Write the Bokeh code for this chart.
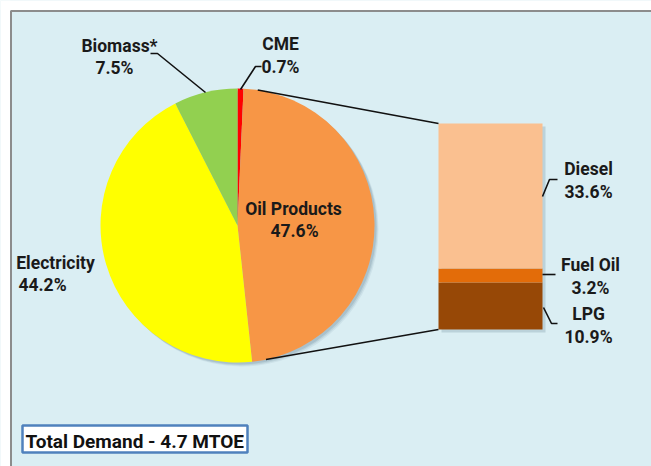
import numpy as np
from bokeh.plotting import figure
from bokeh.models import Range1d, ColumnDataSource
from bokeh.core.properties import value
from bokeh.embed import file_html
from bokeh.resources import INLINE

# ---------------- data ----------------
pie_names = ["CME", "Oil Products", "Electricity", "Biomass*"]   # clockwise from 12 o'clock
pie_values = [0.7, 47.6, 44.2, 7.5]
pie_colors = ["#FF0000", "#F79646", "#FFFF00", "#92D050"]

oil_names = ["LPG", "Fuel Oil", "Diesel"]                      # bottom to top of the bar
oil_values = [10.9, 3.2, 33.6]
oil_colors = ["#974806", "#E36C09", "#FAC090"]

total_label = "Total Demand - 4.7 MTOE"

# ---------------- layout helpers ----------------
W, H = 651, 466
OX, OY = 0, 0          # where the figure lands on the page
def X(ix):  # image x -> data x
    return ix - OX
def Y(iy):  # image y -> data y
    return H + OY - iy

FONT = value("Roboto")
TXT = "#1a1a1a"
BG = "#DAEEF3"
TSHIFT = 6             # correction of rendered text baseline

p = figure(width=W, height=H, x_range=Range1d(0, W), y_range=Range1d(0, H),
           output_backend="svg", toolbar_location=None, min_border=0)
p.axis.visible = False
p.grid.visible = False
p.outline_line_color = None
p.background_fill_color = BG
p.border_fill_color = BG

# white page margin + grey frame (top/left)
p.quad(left=[0], right=[X(10)], bottom=[0], top=[H], fill_color="white", line_color=None)
p.quad(left=[0], right=[W], bottom=[Y(9.5)], top=[H], fill_color="white", line_color=None)
p.line(x=[X(10.5), X(10.5), W], y=[0, Y(10.5), Y(10.5)], line_color="#8c8c8c", line_width=2)

# ---------------- pie ----------------
cx, cy, R = X(237), Y(225), 137
vals = np.array(pie_values, dtype=float)
frac = vals / vals.sum()
cw_end = np.cumsum(frac) * 2 * np.pi
cw_start = cw_end - frac * 2 * np.pi
pie_src = ColumnDataSource(dict(
    start=np.pi / 2 - cw_end, end=np.pi / 2 - cw_start,
    color=pie_colors, name=pie_names))

# soft shadow
for off, a in [(4, 0.10), (3, 0.15), (2, 0.2)]:
    p.circle(x=[cx + off], y=[cy - off], radius=R, fill_color="#5f7f8f",
             fill_alpha=a, line_color=None)
p.wedge(x=cx, y=cy, radius=R, start_angle="start", end_angle="end",
        fill_color="color", line_color=None, source=pie_src)

# ---------------- stacked bar (oil products breakdown) ----------------
bar_bottom_img, bar_top_img = 329, 123
oil = np.array(oil_values, dtype=float)
k = (bar_bottom_img - bar_top_img) / oil.sum()           # px per percent
r_start = -Y(bar_bottom_img) / k
p.extra_y_ranges = {"bar": Range1d(start=r_start, end=r_start + H / k)}
tops = np.cumsum(oil)
bots = tops - oil
bar_x, bar_w = X(490), 104

# bar shadow
p.vbar(x=[bar_x + 3], width=bar_w, bottom=[0 - 3 / k], top=[tops[-1] - 3 / k],
       y_range_name="bar", fill_color="#5f7f8f", fill_alpha=0.25, line_color=None)
bar_src = ColumnDataSource(dict(x=[bar_x] * len(oil), bottom=bots, top=tops,
                                color=oil_colors, name=oil_names))
p.vbar(x="x", width=bar_w, bottom="bottom", top="top", fill_color="color",
       line_color=None, y_range_name="bar", source=bar_src)

# ---------------- connector lines pie -> bar ----------------
bar_left = bar_x - bar_w / 2
bar_top_y = Y(bar_bottom_img) + k * tops[-1]
bar_bot_y = Y(bar_bottom_img)
a_top, a_bot = np.deg2rad(8.5), np.deg2rad(168)
p.segment(x0=[cx + R * np.sin(a_top), cx + R * np.sin(a_bot)],
          y0=[cy + R * np.cos(a_top), cy + R * np.cos(a_bot)],
          x1=[bar_left, bar_left], y1=[bar_top_y, bar_bot_y],
          line_color="#111111", line_width=1.6)

# ---------------- leader lines ----------------
leaders_img = [
    [(150, 53), (157, 53), (205, 92)],          # Biomass
    [(261, 66), (255, 66), (240, 89)],          # CME
    [(557, 179), (549, 179), (542, 196)],       # Diesel
    [(542, 274), (555, 274)],                   # Fuel Oil
    [(543, 307), (551, 323), (557, 323)],       # LPG
]
p.multi_line(xs=[[X(a) for a, b in L] for L in leaders_img],
             ys=[[Y(b) for a, b in L] for L in leaders_img],
             line_color="#111111", line_width=1.6)

# ---------------- labels ----------------
pct = {n: f"{v}%" for n, v in zip(pie_names + oil_names, pie_values + oil_values)}
# (name, img x line1, img baseline line1, img x line2, img baseline line2)
lab_pos = [
    ("Biomass*", 119, 51, 114, 73),
    ("CME", 280, 49, 280, 72),
    ("Oil Products", 293, 214, 294, 236),
    ("Electricity", 55, 268, 42, 290),
    ("Diesel", 588, 174, 588, 197),
    ("Fuel Oil", 590, 270, 590, 293),
    ("LPG", 588, 319, 588, 342),
]
tx, ty, tt = [], [], []
for n, x1, y1, x2, y2 in lab_pos:
    tx += [X(x1), X(x2)]
    ty += [Y(y1 - TSHIFT), Y(y2 - TSHIFT)]
    tt += [n, pct[n]]
p.text(x=tx, y=ty, text=tt, text_font=FONT, text_font_style="bold",
       text_font_size="17.5px", text_color=TXT, text_align="center",
       text_baseline="alphabetic")

# ---------------- total demand box ----------------
p.quad(left=[X(22)], right=[X(247)], bottom=[Y(452)], top=[Y(425)],
       fill_color="white", line_color="#4F81BD", line_width=2.5)
p.text(x=[X(25)], y=[Y(447 - TSHIFT)], text=[total_label], text_font=FONT,
       text_font_style="bold", text_font_size="19px", text_color="#111111",
       text_align="left", text_baseline="alphabetic")

open("out.html", "w").write(file_html(p, INLINE))
